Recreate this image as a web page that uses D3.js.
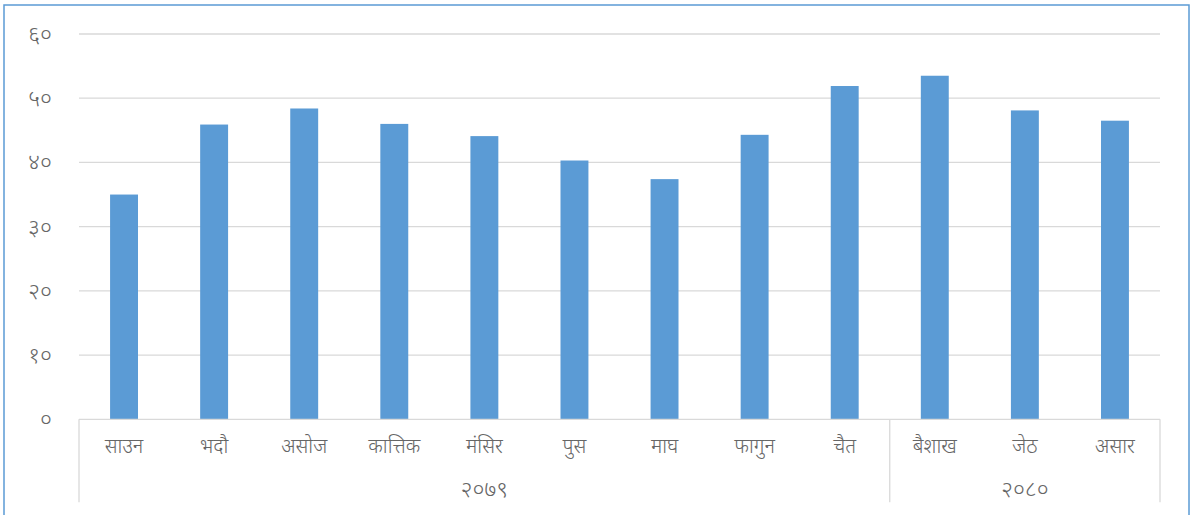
<!DOCTYPE html>
<html>
<head>
<meta charset="utf-8">
<script src="https://cdn.jsdelivr.net/npm/d3@7.9.0/dist/d3.min.js"></script>
<style>
  body { margin: 0; background: #fff; }
  text { font-family: "Noto Sans Devanagari", "Noto Sans", "Lohit Devanagari", sans-serif; fill: #666; font-weight: 300; }
</style>
</head>
<body>
<svg id="chart" width="1192" height="515"></svg>
<script>
// months (Nepali calendar) and their values
const months = ['साउन', 'भदौ', 'असोज', 'कात्तिक', 'मंसिर', 'पुस', 'माघ', 'फागुन', 'चैत', 'बैशाख', 'जेठ', 'असार'];
const values = [35.0, 45.9, 48.4, 46.0, 44.1, 40.3, 37.4, 44.3, 51.9, 53.5, 48.1, 46.5];
// year groups: label + how many months it spans
const years = ['२०७९', '२०८०'];
const yearSpan = [9, 3];
const yTicks = [0, 10, 20, 30, 40, 50, 60];
const yTickLabels = ['०', '१०', '२०', '३०', '४०', '५०', '६०'];

const svg = d3.select('#chart');
const margin = { left: 79, right: 32, top: 34, bottom: 95 };
const width = 1192, height = 515;

// outer chart border (bottom edge is cut off in the picture)
svg.append('rect')
  .attr('x', 4).attr('y', 5)
  .attr('width', 1185).attr('height', 530)
  .attr('fill', 'none')
  .attr('stroke', '#5B9BD5')
  .attr('stroke-width', 1.5);

const x = d3.scaleBand()
  .domain(months)
  .range([margin.left, width - margin.right])
  .paddingInner(0.69)
  .paddingOuter(0.345);

const y = d3.scaleLinear()
  .domain([0, 60])
  .range([height - margin.bottom - 0.7, margin.top]);

// gridlines
svg.append('g')
  .selectAll('line')
  .data(yTicks.slice(1))
  .join('line')
  .attr('x1', margin.left)
  .attr('x2', width - margin.right)
  .attr('y1', d => y(d))
  .attr('y2', d => y(d))
  .attr('stroke', '#D9D9D9')
  .attr('stroke-width', 1.3);

// y labels
svg.append('g')
  .selectAll('text')
  .data(yTicks)
  .join('text')
  .attr('x', 52)
  .attr('y', d => y(d))
  .attr('dy', '0.35em')
  .attr('text-anchor', 'end')
  .attr('font-size', 23)
  .text((d, i) => yTickLabels[i]);

// bars
svg.append('g')
  .selectAll('rect')
  .data(values)
  .join('rect')
  .attr('x', (d, i) => x(months[i]))
  .attr('width', x.bandwidth())
  .attr('y', d => y(d))
  .attr('height', d => y(0) - y(d))
  .attr('fill', '#5B9BD5');

// category axis line
const axisY = y(0);
svg.append('line')
  .attr('x1', margin.left).attr('x2', width - margin.right)
  .attr('y1', axisY).attr('y2', axisY)
  .attr('stroke', '#D9D9D9').attr('stroke-width', 1.3);

// month labels
svg.append('g')
  .selectAll('text')
  .data(months)
  .join('text')
  .attr('x', d => x(d) + x.bandwidth() / 2)
  .attr('y', axisY + 27)
  .attr('dy', '0.35em')
  .attr('text-anchor', 'middle')
  .attr('font-size', 20)
  .text(d => d);

// year group dividers and labels
const step = x.step();
let start = 0;
const bounds = [margin.left];
years.forEach((yr, i) => {
  const x0 = margin.left + start * step;
  const x1 = margin.left + (start + yearSpan[i]) * step;
  bounds.push(x1);
  svg.append('text')
    .attr('x', (x0 + x1) / 2)
    .attr('y', axisY + 70)
    .attr('dy', '0.35em')
    .attr('text-anchor', 'middle')
    .attr('font-size', 23)
    .text(yr);
  start += yearSpan[i];
});

svg.append('g')
  .selectAll('line')
  .data(bounds)
  .join('line')
  .attr('x1', d => d).attr('x2', d => d)
  .attr('y1', axisY).attr('y2', axisY + 83)
  .attr('stroke', '#D9D9D9').attr('stroke-width', 1.3);
</script>
</body>
</html>
